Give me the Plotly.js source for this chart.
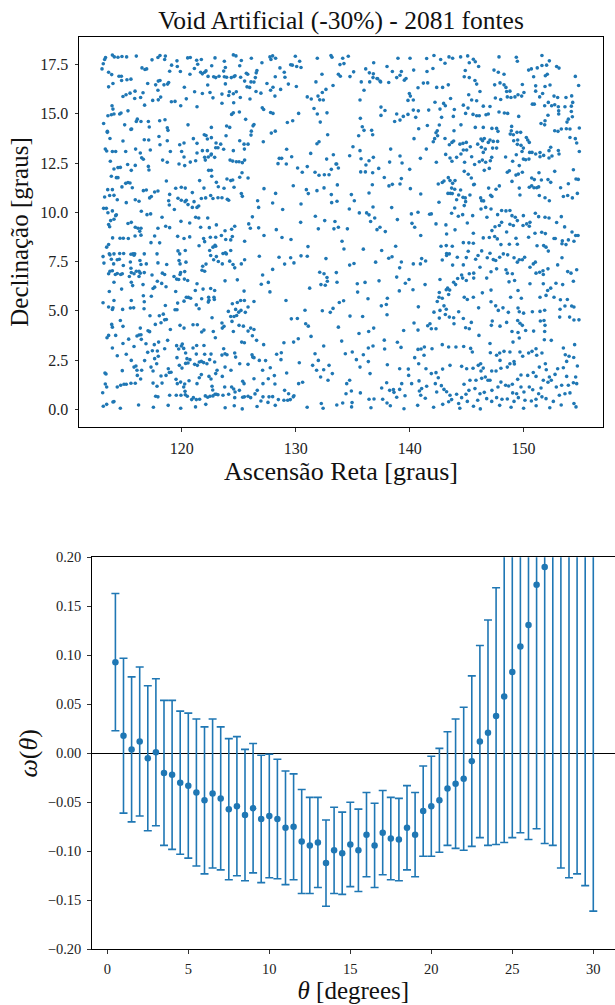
<!DOCTYPE html>
<html>
<head>
<meta charset="utf-8">
<script src="https://cdn.plot.ly/plotly-3.0.1.min.js"></script>
<style>html,body{margin:0;padding:0;background:#fff}#chart{width:615px;height:1005px}</style>
</head>
<body>
<div id="chart"></div>
<script>
// ---------- Top panel: sources (RA, Dec) ----------
const sourcesLeft = [
[113.3,17.86],[113.9,17.98],[114.07,17.89],[114.39,17.87],[114.74,17.91],[115.15,17.89],[116.0,17.93],[117.38,17.74],[117.9,17.86],[118.08,17.96],[118.55,17.93],[118.49,17.76],[119.57,17.69],[120.51,17.84],[120.74,17.86],[121.3,17.72],[121.71,17.76],[122.91,17.84],[123.73,17.67],[124.52,17.99],[124.75,17.94],[125.22,17.71],[126.1,17.82],[113.22,17.76],
[113.1,17.54],[112.99,17.28],[113.57,17.11],[113.84,16.99],[116.5,17.33],[116.76,17.25],[116.91,17.28],[119.1,17.47],[119.6,17.4],[119.87,17.15],[118.93,17.16],[121.1,17.3],[121.39,17.52],[121.65,17.11],[121.8,17.03],[122.0,17.11],[122.12,17.18],[122.62,17.44],[123.82,17.35],[123.67,17.17],[125.08,17.44],[125.66,17.06],[125.78,17.01],
[113.57,16.37],[113.95,16.54],[114.48,16.91],[114.69,16.91],[114.71,16.69],[115.18,16.73],[115.53,16.76],[117.0,16.54],[117.93,16.66],[118.08,16.69],[117.7,16.47],[118.43,16.47],[118.75,16.51],[118.84,16.59],[120.22,16.35],[120.71,17.01],[122.3,16.9],[122.27,16.46],[122.79,16.88],[122.97,16.84],[123.26,16.91],[123.73,16.88],[123.82,16.52],[123.93,16.86],[124.34,16.84],[124.58,16.89],[124.67,16.93],[125.16,16.86],[125.51,16.66],[125.72,16.37],[126.07,16.62],[125.95,16.34],
[114.83,15.88],[115.1,15.97],[115.45,16.05],[115.89,16.15],[115.86,15.78],[116.38,15.83],[116.59,16.07],[116.73,15.44],[117.44,15.68],[117.9,16.2],[117.93,15.71],[118.14,15.85],[119.08,15.61],[119.4,15.63],[119.9,15.41],[120.39,15.76],[121.12,16.12],[121.8,16.03],[122.47,16.08],[122.73,15.81],[123.52,16.0],[124.17,16.12],[124.11,15.93],[124.52,16.02],[124.78,16.12],[124.55,15.56],[125.13,15.83],[125.98,15.75],[123.52,15.54],
[113.87,15.41],[113.95,15.24],[113.51,14.9],[113.81,14.95],[114.04,14.99],[114.54,14.99],[114.66,15.04],[115.27,15.15],[116.09,14.73],[116.0,14.61],[116.41,14.61],[117.06,14.61],[117.14,14.33],[118.05,14.65],[118.52,14.7],[118.72,14.29],[118.78,14.16],[120.54,14.44],[121.33,15.36],[122.59,14.31],[123.93,14.38],[124.2,14.31],[124.37,14.97],[124.52,15.05],[125.05,15.09],[125.6,14.72],[126.1,14.12],[126.25,14.39],[113.13,14.51],[113.46,14.11],[114.98,14.44],[115.59,14.23],
[113.69,13.75],[114.83,13.62],[115.53,14.21],[116.7,13.68],[117.09,13.67],[117.99,13.85],[118.08,13.43],[118.72,13.63],[119.81,13.43],[120.19,13.52],[121.01,13.74],[121.33,13.5],[121.97,13.94],[122.12,13.9],[122.24,13.72],[122.59,13.79],[123.0,13.52],[123.17,13.28],[123.41,13.46],[123.67,13.2],[123.88,13.89],[124.52,13.13],[125.08,13.63],[125.46,13.46],[125.81,13.46],[126.07,13.92],[113.46,14.06],[113.28,13.21],[113.4,13.11],[113.9,13.09],[114.19,13.09],[115.07,13.09],[115.94,13.21],[116.35,13.01],[117.23,13.16],[118.99,13.09],[119.98,13.09],[121.33,13.01],[121.8,13.13],[122.24,13.13],[122.97,13.28],[125.49,13.21],
[113.72,12.59],[114.04,12.2],[114.39,12.27],[114.6,12.28],[115.24,12.43],[115.56,12.13],[115.91,12.38],[116.47,12.77],[116.62,12.69],[117.06,12.33],[117.11,12.15],[118.31,12.65],[118.72,12.54],[119.75,12.45],[120.25,12.37],[120.74,12.55],[121.21,12.62],[122.06,12.65],[122.32,12.81],[122.59,12.96],[122.0,12.79],[122.56,12.91],[122.88,12.79],[124.23,12.65],[124.46,12.6],[124.78,12.57],[125.02,12.57],[125.31,12.52],[125.51,12.65],[120.19,12.81],
[113.81,11.83],[114.25,11.76],[114.39,11.76],[114.74,11.29],[115.07,11.47],[115.27,11.51],[115.45,11.49],[115.65,11.25],[116.62,11.1],[116.88,11.13],[117.61,11.03],[117.9,11.08],[118.64,11.59],[118.93,10.91],[119.46,11.22],[119.95,11.27],[120.3,11.23],[120.92,11.0],[121.56,11.61],[121.94,11.23],[122.35,12.13],[122.59,12.13],[122.62,11.83],[123.03,11.52],[123.2,11.3],[123.7,11.22],[123.96,11.69],[124.29,11.61],[124.46,11.64],[124.58,11.27],[125.08,11.78],[125.28,12.01],[125.81,11.74],[113.9,11.15],[113.49,11.15],[113.22,10.78],[113.66,10.85],
[114.04,10.86],[114.33,10.64],[115.12,10.49],[115.91,10.64],[116.24,10.56],[117.17,10.73],[117.32,10.8],[118.84,10.59],[118.9,10.37],[119.34,10.14],[119.66,10.71],[119.95,10.61],[120.39,10.61],[120.28,10.54],[120.92,10.25],[121.07,10.54],[121.48,10.32],[121.71,10.7],[122.09,10.73],[122.53,10.85],[122.73,10.7],[123.17,10.74],[123.52,10.74],[123.99,10.66],[124.11,10.61],[125.22,10.95],[125.31,10.81],[113.13,10.2],[113.37,10.2],[113.51,9.98],[113.9,10.07],[114.25,9.87],[116.44,10.05],[116.94,9.88],[117.26,9.92],[120.54,10.39],[121.33,10.25],
[113.57,9.38],[113.66,9.27],[113.75,9.58],[114.04,9.65],[114.19,9.83],[115.27,9.43],[115.56,9.49],[115.91,9.24],[116.15,9.19],[116.41,9.19],[116.3,9.04],[115.89,8.8],[118.26,9.75],[118.58,9.29],[118.93,9.22],[117.9,9.19],[119.92,9.54],[120.69,9.46],[121.21,9.75],[121.48,9.71],[121.65,9.24],[122.41,9.22],[123.03,9.36],[123.79,9.06],[124.37,9.14],[124.64,9.29],[125.87,9.41],[126.19,9.77],[126.01,9.19],[122.27,9.71],
[113.92,8.7],[114.57,8.68],[114.86,8.68],[115.3,8.67],[116.41,8.84],[117.29,8.46],[117.61,8.8],[118.05,8.45],[119.63,8.78],[120.19,8.67],[120.69,8.75],[121.91,8.67],[122.0,8.51],[122.5,8.73],[122.97,8.73],[122.91,8.33],[123.47,8.82],[123.85,8.62],[124.29,8.6],[124.43,8.77],[125.51,8.53],[113.4,8.23],[113.57,8.36],[113.63,7.89],[114.04,7.89],[114.54,7.91],[114.89,7.91],[115.53,7.87],[115.71,7.89],[115.86,7.89],[116.7,7.89],[117.82,7.89],[119.66,8.04],[119.81,7.89],[120.3,8.06],[121.51,8.3],[122.44,8.06],[122.73,8.23],[122.97,8.28],[123.61,7.91],[123.82,7.94],[124.29,8.06],[123.91,7.89],
[113.08,7.75],[113.16,7.42],[113.69,7.84],[113.81,7.62],[114.01,7.38],[114.33,7.59],[114.51,7.62],[114.86,7.3],[115.48,7.48],[115.53,7.16],[115.8,7.82],[116.32,7.55],[116.41,7.35],[116.24,7.01],[116.88,7.38],[117.9,7.43],[118.67,7.35],[119.75,7.55],[119.84,7.38],[120.36,7.47],[121.83,7.26],[122.12,7.37],[122.53,7.81],[122.79,7.59],[123.03,7.75],[123.2,7.5],[123.55,7.38],[124.2,7.52],[124.49,7.35],[124.64,7.18],[125.22,7.38],[125.51,7.59],[113.69,7.01],[113.9,7.03],[113.57,6.88],[114.16,6.84],[114.33,6.89],[114.63,6.84],[114.77,6.88],[115.56,6.94],[115.8,6.88],[116.0,7.01],[116.35,6.91],[116.24,6.74],[116.7,6.94],[117.38,6.82],[117.85,6.5],[118.29,6.91],[118.49,6.84],[119.89,6.94],[120.25,6.99],[121.77,7.06],[122.0,7.01],
[114.04,6.45],[114.71,6.1],[115.39,6.74],[115.56,6.45],[115.68,6.28],[116.59,6.33],[117.47,6.13],[117.61,6.2],[118.23,6.39],[118.61,6.22],[119.31,6.74],[119.54,6.61],[119.72,6.59],[119.84,6.84],[120.22,6.61],[120.51,6.54],[121.33,6.37],[121.86,6.1],[122.53,6.13],[122.88,6.03],[123.79,6.52],[124.87,6.57],[125.46,6.0],[113.63,5.98],[116.62,5.76],[117.32,5.74],[119.46,5.98],[120.19,5.49],[120.39,5.69],[120.57,5.68],[120.77,5.64],[121.18,6.03],[122.35,5.69],[122.82,5.69],
[113.08,5.41],[113.57,5.19],[113.95,5.15],[114.04,5.52],[113.9,5.07],[114.8,5.07],[115.48,5.14],[115.77,5.15],[115.56,5.52],[116.7,5.46],[116.68,5.1],[117.2,4.75],[118.02,4.75],[118.37,4.83],[118.55,5.27],[118.64,4.56],[119.4,5.05],[119.57,5.05],[119.63,5.39],[121.27,5.3],[121.51,5.1],[121.74,5.61],[122.38,5.54],[122.85,5.57],[122.32,5.44],[124.43,5.36],[124.87,5.42],[125.16,5.52],[125.49,5.52],[124.08,4.97],[124.29,4.71],[124.58,4.71],[124.81,4.76],[124.72,5.07],[124.99,4.93],[125.19,5.02],[125.57,4.92],[125.81,5.19],
[113.84,4.31],[113.9,4.17],[113.57,3.75],[113.43,3.63],[114.19,3.75],[114.6,4.51],[114.83,4.21],[115.33,3.56],[116.06,3.72],[116.24,3.77],[116.35,4.12],[116.41,3.78],[117.03,3.99],[117.17,3.94],[117.67,4.31],[118.17,4.39],[118.49,4.54],[118.99,4.05],[119.84,4.26],[120.19,4.12],[120.98,4.29],[121.36,4.29],[121.74,3.92],[121.94,4.02],[122.65,4.65],[122.76,3.95],[122.94,3.63],[123.52,4.38],[123.7,4.21],[123.55,4.12],[124.4,4.46],[124.52,3.95],[125.02,4.26],[125.4,4.22],[126.04,4.12],[125.81,3.97],[126.19,3.73],[125.25,3.41],[125.49,3.38],
[113.9,3.11],[114.33,2.72],[114.83,3.34],[115.12,2.79],[115.8,3.19],[116.44,3.55],[116.85,3.33],[117.0,2.89],[117.41,2.97],[117.58,3.28],[117.85,2.96],[117.96,3.41],[118.49,3.07],[118.75,3.5],[119.72,3.06],[119.54,3.23],[119.95,3.21],[120.04,3.31],[120.16,3.09],[120.33,2.86],[120.98,3.11],[121.3,3.24],[121.27,2.8],[122.0,2.79],[121.94,3.24],[122.56,2.8],[123.67,3.07],[123.52,2.75],[123.79,2.82],[123.96,2.77],[124.64,2.86],[126.16,2.77],
[114.77,1.96],[115.56,2.48],[115.8,2.14],[115.97,2.2],[116.06,1.98],[116.47,1.98],[116.73,2.47],[117.29,2.14],[117.47,1.94],[117.61,2.57],[117.79,2.31],[117.93,2.69],[118.81,2.06],[118.9,1.87],[119.57,2.62],[119.78,2.23],[120.01,2.09],[120.33,2.33],[120.45,2.57],[120.54,2.35],[120.71,2.52],[121.12,2.28],[121.36,2.23],[121.53,2.4],[121.71,2.43],[121.91,2.37],[122.2,2.31],[122.44,2.52],[122.88,2.4],[123.09,1.98],[122.97,1.81],[123.55,1.67],[123.79,2.14],[124.31,1.98],[124.72,2.65],[125.08,2.31],[125.81,2.28],[126.22,2.65],[113.25,1.84],[113.34,1.79],
[114.63,1.22],[114.92,1.27],[115.12,1.27],[115.53,1.32],[115.91,1.32],[116.09,1.72],[116.38,1.54],[117.47,1.33],[117.82,1.17],[118.17,1.69],[118.26,1.33],[118.61,1.72],[119.05,1.88],[119.49,1.52],[119.6,1.3],[119.89,1.38],[120.16,1.13],[120.25,1.28],[120.28,0.91],[120.63,1.45],[121.33,1.3],[121.53,1.6],[121.71,1.76],[122.38,1.67],[122.56,1.54],[122.65,1.17],[122.71,0.98],[122.91,0.76],[123.76,1.13],[124.37,1.13],[124.55,1.03],[124.67,0.88],[125.05,0.96],[125.34,1.42],[125.46,1.3],[113.28,1.28],[113.4,1.13],[113.05,0.84],[114.04,0.39],[114.33,1.13],[118.93,0.71],[119.51,0.71],[119.92,0.71],[120.3,0.74],[120.48,0.66],[120.86,0.49],[121.01,0.59],[121.27,0.49],[121.56,0.51],[122.06,0.68],[122.27,0.61],[122.47,0.66],[122.73,0.68],[123.03,0.76],[123.17,0.74],[123.61,0.71],[124.11,0.76],[124.64,0.59],[125.34,0.61],[125.49,0.63],[125.81,0.66],[126.04,0.59],[117.7,0.66],[117.9,0.63],[113.4,0.25],[113.95,0.37]
];
const sourcesMiddle = [
[127.03,17.59],[127.73,17.89],[127.82,17.76],[127.97,17.94],[128.23,17.82],[128.61,17.33],[128.99,17.11],[129.55,17.49],[129.7,17.47],[129.96,17.92],[130.08,17.4],[130.34,17.67],[130.46,17.35],[131.89,17.82],[132.3,17.01],[133.09,17.96],[133.18,17.87],[133.88,17.5],[134.12,17.82],[134.23,17.55],[134.61,17.92],[135.08,17.13],[135.75,16.62],[136.14,17.28],[136.46,17.08],[136.81,17.03],[136.84,17.59],[137.13,16.79],[137.39,16.66],[138.01,17.4],[138.48,17.15],[138.97,17.82],[139.27,17.15],[140.03,17.82],[140.35,17.22],[141.49,17.81],[141.52,17.15],[126.59,17.2],[126.53,17.08],[126.45,16.84],
[126.33,16.61],[126.51,16.13],[126.94,16.05],[127.47,16.54],[127.79,16.2],[128.0,16.35],[128.2,16.88],[128.17,15.9],[128.67,16.24],[129.05,16.86],[129.35,16.51],[130.05,16.39],[131.01,15.86],[131.36,15.75],[131.77,16.62],[131.95,15.9],[132.1,15.71],[132.42,15.7],[132.33,16.08],[132.65,16.24],[133.27,16.44],[133.74,17.01],[133.91,16.91],[134.76,16.89],[135.99,16.2],[136.49,16.62],[136.78,16.84],[137.19,16.78],[137.45,16.62],[138.16,16.59],[138.86,16.84],[139.15,16.96],[139.53,16.71],[139.68,16.79],[139.97,16.03],[140.06,15.9],[140.32,15.7],[139.85,15.68],[140.73,16.32],[141.2,16.56],[141.58,16.57],[141.67,15.19],
[127.06,15.31],[127.18,15.22],[127.79,15.07],[128.0,15.02],[129.26,14.56],[129.73,14.65],[130.25,15.02],[131.6,15.27],[131.89,14.99],[132.15,14.58],[132.74,15.05],[135.64,15.7],[135.67,14.77],[135.84,14.34],[135.99,14.16],[136.66,14.16],[136.75,13.94],[137.48,15.34],[137.48,14.92],[137.83,15.17],[138.68,14.61],[138.86,14.99],[139.15,14.68],[139.44,14.87],[139.85,14.97],[140.32,15.19],[140.53,14.82],[140.76,15.15],[141.55,14.41],[140.79,14.24],[126.33,14.46],[127.85,14.02],[128.2,14.12],[132.8,13.94],[135.52,13.89],[140.38,13.74],
[127.15,13.58],[129.2,13.2],[129.64,12.82],[128.55,12.74],[128.76,12.74],[128.44,12.47],[129.17,12.45],[130.16,12.25],[131.01,12.32],[131.31,12.99],[131.86,13.48],[132.04,13.58],[132.71,12.7],[133.3,12.92],[133.53,12.45],[133.74,12.25],[134.73,12.87],[135.02,13.33],[135.64,13.13],[135.73,12.72],[136.16,12.4],[136.43,12.62],[136.81,12.79],[137.28,12.23],[138.33,13.21],[138.24,12.55],[139.15,12.86],[139.33,12.5],[140.0,12.18],[140.94,12.74],[141.46,13.21],
[130.57,12.03],[131.69,12.03],[132.04,11.88],[132.51,11.91],[132.92,11.91],[133.12,12.18],[133.59,12.45],[129.78,11.35],[130.93,11.15],[131.1,10.95],[131.86,11.1],[132.48,11.24],[133.12,10.9],[133.65,11.39],[133.15,10.49],[133.62,10.56],[134.88,10.9],[135.14,10.59],[135.7,12.05],[136.11,12.05],[136.72,11.4],[136.75,12.01],[137.77,11.77],[138.18,11.34],[138.48,11.42],[139.15,11.44],[139.27,11.71],[140.06,11.2],[140.97,10.93],[136.43,10.98],[127.21,11.2],[128.23,10.96],[126.65,10.59],[126.74,10.25],
[127.97,10.47],[128.85,10.14],[130.46,10.42],[131.72,9.8],[132.54,9.58],[133.44,9.53],[133.35,9.16],[133.74,9.24],[134.53,9.16],[134.7,10.17],[135.58,9.97],[136.22,9.97],[136.43,9.87],[136.57,9.53],[136.78,10.27],[136.93,9.71],[137.13,9.12],[137.39,9.24],[138.42,10.24],[138.92,9.63],[140.15,9.92],[140.73,10.0],[140.2,9.44],[140.44,9.24],[140.97,8.82],[141.75,9.9],[130.43,9.49],[128.29,9.12],[131.98,9.16],[127.21,8.82],[126.74,9.21],[129.58,8.62],[128.79,8.72],[137.86,9.02],
[134.06,8.53],[134.23,8.14],[131.07,8.26],[131.01,7.77],[130.46,7.79],[129.55,7.69],[129.84,7.43],[129.02,7.37],[128.53,7.72],[126.8,7.77],[132.65,7.65],[134.73,7.32],[135.11,7.4],[135.93,8.13],[137.54,8.06],[138.16,7.67],[138.45,7.74],[138.77,8.28],[139.12,7.18],[139.27,7.48],[140.32,7.38],[140.94,7.38],[141.05,7.65],[141.4,7.53],[137.01,7.47],[127.97,7.1],
[127.09,6.82],[126.97,6.35],[127.59,6.44],[127.73,5.96],[131.22,6.15],[132.1,6.96],[132.21,6.33],[132.48,6.88],[132.59,6.3],[132.74,6.69],[132.77,6.5],[133.56,6.94],[133.62,6.45],[135.4,6.37],[135.43,5.95],[136.08,6.44],[136.34,5.61],[137.31,6.52],[138.04,5.64],[138.86,6.71],[139.62,6.4],[139.94,6.59],[140.29,6.07],[139.09,6.01],[141.35,6.33],[126.33,5.47],[129.14,5.52],[134.2,5.51],[133.82,5.42],[133.27,5.12],[133.03,4.92],[132.33,5.0],[134.76,4.73],[135.87,4.71],[137.95,5.32],[137.51,5.25],[138.01,4.8],[140.76,5.2],
[130.81,5.03],[129.61,4.59],[130.14,4.61],[130.87,4.34],[131.1,4.22],[131.34,3.7],[133.74,4.17],[136.4,3.95],[136.84,4.12],[139.47,4.0],[140.38,4.38],[140.73,4.02],[141.58,4.24],[126.33,4.05],[126.56,3.5],[127.18,3.28],[128.96,3.38],[129.81,3.41],[130.22,3.58],[132.45,3.21],[134.03,3.46],[135.55,3.85],[136.37,3.11],[136.78,3.21],[137.77,3.51],[137.8,3.06],[138.92,3.4],[139.24,3.14],[140.73,3.04],[141.0,3.06],[141.29,3.16],
[128.32,2.79],[128.73,2.87],[126.8,2.48],[127.35,2.47],[126.33,2.62],[127.76,2.11],[128.7,2.52],[130.31,2.36],[131.69,2.82],[131.48,2.23],[131.98,2.48],[131.83,1.98],[132.18,1.64],[132.45,2.01],[132.92,2.23],[133.21,1.81],[134.35,2.82],[134.96,2.91],[135.32,2.52],[135.64,2.14],[135.93,2.77],[136.37,2.42],[136.52,1.81],[138.04,2.26],[139.12,2.06],[139.88,2.04],[140.44,2.62],[140.79,2.31],[141.26,2.74],[141.43,2.06],[127.09,1.98],[127.59,1.55],[129.2,1.84],
[128.12,1.71],[126.33,1.55],[126.62,0.96],[127.12,1.3],[128.17,1.28],[129.02,0.96],[129.37,0.79],[129.84,0.69],[130.25,1.3],[130.6,1.37],[132.83,1.47],[134.47,1.3],[134.73,1.47],[134.88,0.93],[134.41,0.79],[135.67,0.83],[136.43,0.51],[136.87,0.52],[137.54,1.08],[137.98,1.35],[138.01,0.32],[138.24,0.96],[138.57,1.0],[139.12,1.01],[139.3,1.3],[139.59,0.69],[139.91,1.72],[140.17,1.3],[140.85,0.93],[140.82,1.44],[141.05,1.05],[141.49,1.17],[126.42,0.78],[126.94,0.42],[127.12,0.63],[127.65,0.63],[127.97,0.64],[127.56,0.35],[128.47,0.49],[128.96,0.46],[129.29,0.46],[129.52,0.49],[129.78,0.63],[132.24,0.29],[134.12,0.32],[134.94,0.34],[137.63,0.51],[138.62,0.86],[138.86,0.61],[140.97,0.71],[141.37,0.56]
];
const sourcesRight = [
[142.13,17.96],[142.72,17.76],[143.1,17.57],[143.45,17.89],[143.77,17.82],[144.47,17.89],[145.09,17.94],[145.23,17.59],[145.59,17.77],[145.76,17.64],[146.05,17.4],[144.88,17.2],[144.79,16.88],[147.84,17.89],[147.4,17.22],[147.78,17.11],[148.28,17.01],[149.36,17.87],[149.45,17.67],[150.44,17.22],[150.68,17.28],[151.2,17.33],[151.61,17.45],[152.02,17.47],[151.61,17.96],[152.26,17.69],[152.9,17.4],[153.11,17.32],[150.88,16.88],[151.91,16.93],[152.08,17.01],[154.54,16.9],[142.04,17.3],[142.89,16.34],[142.37,16.34],[143.39,16.47],
[145.23,16.84],[145.73,16.69],[145.88,16.51],[146.17,16.13],[147.46,16.47],[147.93,16.57],[148.28,16.47],[148.45,16.34],[148.51,16.13],[148.8,16.15],[149.24,15.86],[149.51,15.97],[149.83,15.9],[150.03,16.08],[149.89,16.49],[151.06,16.42],[151.67,16.03],[151.88,16.39],[152.32,16.46],[152.67,15.9],[152.99,15.83],[153.72,15.83],[154.22,15.91],[154.83,16.44],[142.22,15.59],[142.98,15.53],[143.13,15.41],[143.59,15.78],[145.18,15.97],[145.44,15.7],[145.88,15.66],[146.46,15.39],[147.05,15.37],[147.52,15.8],[147.99,15.73],[148.57,15.86],[148.89,15.83],[151.06,16.15],[150.77,15.49],[151.41,15.86],[151.85,15.41],[152.17,15.58],[152.46,15.41],[152.73,15.46],[153.05,15.36],[153.08,15.15],[153.08,14.99],[153.63,15.36],[154.19,15.39],[154.31,15.58],
[142.66,15.24],[142.8,14.82],[143.92,15.22],[143.83,14.87],[144.71,15.44],[144.91,15.02],[145.12,15.29],[145.56,14.97],[145.88,14.9],[146.11,14.9],[146.7,14.95],[146.9,14.99],[147.84,15.09],[148.31,15.04],[148.6,15.02],[149.57,14.87],[150.94,15.49],[151.53,14.51],[151.85,14.44],[152.14,14.93],[151.88,14.65],[153.81,14.58],[153.93,14.73],[154.19,15.12],[154.28,14.85],[142.6,14.43],[142.42,14.14],[142.31,14.04],[142.45,13.89],[143.1,13.75],[142.19,13.74],[143.89,14.14],[144.5,14.44],[145.76,14.31],[146.46,14.31],[147.22,14.26],[147.63,14.26],[147.75,14.11],[148.95,14.36],[148.92,14.14],[148.83,13.97],[149.1,13.94],[149.42,14.06],[149.74,14.06],[152.73,14.14],[153.02,14.11],[153.31,14.23],[153.75,14.24],[154.07,14.23],[154.89,14.28],
[142.07,13.58],[143.48,13.43],[143.71,13.55],[143.86,13.62],[144.41,13.46],[144.68,13.5],[144.97,13.55],[144.5,12.96],[144.71,13.16],[145.0,13.16],[145.32,13.33],[145.97,13.46],[146.26,13.72],[146.4,13.63],[146.55,13.75],[146.9,13.55],[147.05,13.67],[147.34,13.6],[147.72,13.6],[146.29,13.3],[146.46,13.04],[146.64,13.21],[147.28,13.26],[147.63,13.26],[149.13,13.63],[149.48,13.67],[149.45,13.45],[149.77,13.4],[150.24,13.8],[150.36,13.67],[150.5,13.55],[149.98,13.26],[149.36,12.92],[149.86,13.09],[150.53,13.04],[150.74,13.04],[151.44,13.03],[151.76,12.89],[152.23,13.13],[152.38,13.3],[153.05,13.14],[153.11,12.96],[154.07,13.8],[154.54,13.74],[154.66,13.52],[154.89,13.09],[143.16,12.94],[143.54,12.76],[143.71,12.59],[144.12,12.79],[144.82,12.54],[145.44,12.82],[145.7,12.43],[146.11,12.57],[146.38,12.65],[146.67,12.54],[147.08,12.62],[147.2,12.79],[148.42,12.81],[148.75,12.11],[149.04,12.59],[149.62,12.37],[149.98,12.7],[150.18,12.67],[150.47,12.7],[151.06,12.96],[151.44,12.82],[152.23,12.76],[152.49,12.86],[142.34,12.54],
[144.79,12.08],[145.14,11.93],[145.41,11.74],[145.67,11.42],[146.55,12.13],[146.99,12.23],[148.57,12.03],[148.98,11.57],[149.33,11.89],[149.54,11.94],[149.89,12.03],[149.62,11.23],[150.5,11.27],[150.71,11.35],[150.91,11.25],[151.15,11.25],[151.32,11.29],[150.71,11.74],[150.94,11.66],[151.35,12.01],[151.56,11.64],[152.14,11.66],[152.38,11.52],[152.73,12.08],[153.25,11.25],[153.93,11.45],[154.37,12.16],[154.6,11.69],[154.8,11.67],[142.51,11.44],[142.86,11.51],[143.01,11.59],[143.39,11.76],[143.54,11.61],[143.77,11.47],[143.98,11.61],[143.68,11.23],[143.36,10.96],[143.57,10.96],[143.74,10.95],[143.95,11.17],[144.47,11.13],[144.12,10.64],[144.3,10.88],[144.68,10.76],[144.88,10.73],[144.91,10.54],[145.29,10.88],[145.61,11.4],[146.23,10.73],[146.32,10.59],[146.49,10.58],[146.93,11.23],[147.11,10.86],[147.22,10.8],[147.58,11.17],[147.87,11.34],[149.68,10.88],[151.38,10.85],[151.88,10.74],[152.26,10.59],[153.49,10.8],[153.87,10.85],[154.28,10.73],[154.72,10.96],[141.9,9.92],[142.57,10.51],[143.68,9.95],[143.95,10.22],[144.79,10.34],
[142.31,9.41],[143.18,9.36],[143.24,8.9],[143.98,9.11],[144.27,9.8],[144.65,9.88],[145.06,9.46],[145.53,9.83],[145.59,8.94],[146.26,10.17],[146.67,10.25],[147.14,10.17],[147.72,9.88],[148.07,10.09],[148.45,10.07],[148.8,10.09],[148.98,9.83],[149.27,9.75],[149.45,9.58],[149.98,9.83],[150.27,9.41],[150.56,9.49],[151.03,9.95],[151.32,9.78],[151.88,9.75],[152.23,9.71],[152.9,9.48],[153.31,9.78],[153.6,9.26],[146.78,9.75],[147.49,9.27],[147.22,9.07],[147.87,9.33],[148.07,9.49],[148.51,9.0],[148.8,9.39],[149.1,9.33],[149.95,9.33],[150.5,9.29],[151.0,8.94],[151.59,8.99],[151.91,8.92],[152.67,8.67],[153.4,8.55],[154.25,9.0],[154.57,8.82],[142.75,8.28],[143.21,8.31],[143.24,7.91],[143.48,7.89],[143.74,8.28],[144.71,8.46],[145.2,8.45],[145.59,8.43],[146.46,8.7],[146.99,8.72],[147.46,8.77],[147.69,8.65],[148.01,8.36],[148.75,8.38],[149.33,8.68],[149.45,8.38],[150.44,8.73],[151.18,8.3],[151.76,8.31],[151.97,8.23],[152.17,8.03],[152.78,8.67],[153.37,8.4],[153.72,8.36],[153.93,8.6],[154.42,8.53],[154.78,8.82],
[142.86,7.58],[143.24,7.81],[143.77,7.32],[144.18,7.72],[144.71,7.33],[144.97,7.7],[145.14,8.02],[145.79,7.62],[146.0,7.81],[146.32,8.04],[146.81,7.69],[147.05,7.92],[147.34,7.6],[147.55,7.55],[147.63,7.13],[147.9,7.72],[148.22,7.89],[148.6,7.84],[149.16,7.69],[149.45,7.47],[149.62,7.59],[149.89,7.59],[150.09,7.72],[150.56,7.21],[150.85,7.38],[151.03,7.47],[151.09,6.91],[151.41,6.96],[151.7,7.03],[151.73,6.84],[152.14,7.13],[152.99,7.33],[153.37,7.69],[153.87,6.99],[154.16,6.91],[154.66,7.08],[142.66,6.59],[143.21,6.07],[143.33,6.15],[143.51,6.05],[143.86,6.45],[144.03,6.33],[144.21,6.64],[144.56,6.82],[144.65,6.66],[144.97,6.54],[145.23,6.88],[145.62,6.91],[145.62,6.66],[146.17,7.21],[146.76,6.66],[147.14,6.98],[148.45,7.08],[148.57,6.91],[149.01,6.88],[148.72,6.47],[149.21,6.54],[149.51,6.03],[147.14,6.05],[146.38,5.91],[150.56,6.37],[151.73,6.37],[152.11,6.03],[152.38,6.15],[152.84,6.4],[153.43,6.33],[154.37,6.5],
[142.6,5.93],[142.57,5.69],[142.42,5.47],[142.86,5.64],[143.42,5.83],[143.01,5.25],[143.21,5.08],[142.66,5.02],[143.13,4.81],[143.48,4.68],[143.86,4.65],[144.3,4.95],[144.79,5.69],[145.06,5.57],[145.59,5.69],[146.05,5.15],[147.14,5.46],[147.55,5.25],[148.19,5.15],[147.78,5.02],[148.66,4.92],[149.51,5.14],[149.62,4.95],[150.0,4.88],[148.86,5.69],[149.8,5.64],[150.77,4.95],[151.44,4.97],[151.85,5.03],[151.44,5.69],[151.97,5.78],[152.67,5.69],[153.23,5.56],[153.84,5.57],[153.63,5.24],[154.22,5.24],[154.42,5.19],[153.2,5.08],[151.79,4.51],[153.17,4.68],[154.04,4.68],[154.42,4.53],[154.86,4.54],[142.13,4.93],[142.6,4.63],[141.78,4.34],[141.9,4.09],[142.31,4.09],[143.89,4.34],[144.71,4.61],[144.91,4.14],[145.23,4.09],[145.41,4.41],[146.08,3.75],[147.25,4.48],[147.17,4.26],[147.93,4.22],[148.51,4.41],[149.48,4.51],[149.68,4.37],[149.89,4.26],[148.98,3.95],[149.51,3.9],[149.62,3.62],[150.18,4.0],[150.88,3.97],[151.47,4.48],[151.88,4.26],[151.85,3.95],[141.96,3.07],
[142.86,3.28],[143.42,3.16],[144.06,3.16],[144.74,3.19],[145.35,3.09],[145.5,2.91],[147.05,3.34],[147.08,2.87],[147.63,2.74],[147.9,2.86],[147.93,2.48],[148.28,2.94],[148.8,2.91],[149.07,3.41],[149.16,2.42],[149.68,2.91],[149.92,2.69],[150.44,2.86],[150.74,2.94],[151.09,3.07],[151.15,2.74],[151.61,2.86],[151.82,3.53],[152.43,3.5],[151.91,2.31],[153.49,3.11],[153.66,2.77],[153.99,2.69],[154.48,3.28],[154.4,2.63],[154.72,2.2],[153.78,2.43],[141.9,1.81],[142.31,1.86],[142.51,1.6],[142.89,2.04],[143.54,2.23],[144.56,2.18],[145.0,2.06],[145.56,2.08],[146.02,2.23],[146.23,2.31],[146.26,1.94],[146.46,2.09],[146.87,1.47],[147.2,1.94],[147.58,1.94],[148.01,2.08],[148.57,2.14],[148.8,2.31],[149.19,2.3],[149.77,1.74],[150.36,1.72],[150.85,1.87],[151.38,2.14],[151.73,1.47],[151.99,2.01],[152.26,1.64],[152.76,1.77],[152.99,2.06],[153.49,2.11],[153.78,1.67],[154.57,1.64],
[142.25,1.3],[142.78,1.2],[143.01,1.01],[142.37,0.88],[143.24,0.89],[143.54,0.71],[143.68,0.49],[144.12,0.76],[144.56,0.59],[144.94,0.76],[145.2,0.96],[144.77,1.27],[145.29,1.47],[145.82,1.47],[146.32,1.57],[146.64,1.64],[145.73,1.05],[146.17,0.79],[146.55,0.86],[147.05,1.47],[147.22,0.96],[147.75,1.13],[148.01,1.38],[148.42,1.22],[148.69,1.18],[149.01,1.27],[149.48,1.52],[149.77,1.13],[150.03,0.88],[149.39,0.79],[150.5,1.13],[150.8,0.99],[151.09,1.67],[151.32,0.79],[151.53,1.08],[152.14,1.37],[152.43,1.47],[152.87,1.13],[153.34,1.22],[153.93,1.22],[154.37,1.35],[154.66,1.3],[154.07,0.83],[145.97,0.46],[146.76,0.54],[147.2,0.4],[147.63,0.59],[148.1,0.51],[148.57,0.52],[149.04,0.83],[149.16,0.4],[149.54,0.59],[150.12,0.46],[150.68,0.42],[151.09,0.51],[151.61,0.63],[151.97,0.54],[152.61,0.4],[153.14,0.71],[153.63,0.79],[154.42,0.29],[143.42,0.38],[144.3,0.29],[145.06,0.4]
];
const sourcesBottomEdge = [
[113.1,0.15],[114.6,0.05],[116.2,0.22],[117.5,0.1],[118.8,0.2],[119.9,0.05],[121.2,0.12],[122.1,0.25],[123.8,0.08],[124.6,0.18],[125.3,0.02],[126.6,0.14],[128.2,0.2],[131.0,0.1],[132.4,0.05],[133.6,0.22],[134.9,0.12],[136.6,0.08],[138.3,0.18],[139.5,0.03],[140.7,0.2],[142.1,0.1],[142.9,0.25],[144.4,0.05],[145.6,0.15],[146.2,0.02],[147.9,0.2],[148.9,0.1],[150.0,0.05],[151.1,0.18],[152.3,0.08],[153.3,0.22],[154.6,0.12]
];
const raTicks = [120, 130, 140, 150];
const decTicks = [0.0, 2.5, 5.0, 7.5, 10.0, 12.5, 15.0, 17.5];

// ---------- Bottom panel: angular correlation ----------
const theta = [0.5,1.0,1.5,2.0,2.5,3.0,3.5,4.0,4.5,5.0,5.5,6.0,6.5,7.0,7.5,8.0,8.5,9.0,9.5,10.0,10.5,11.0,11.5,12.0,12.5,13.0,13.5,14.0,14.5,15.0,15.5,16.0,16.5,17.0,17.5,18.0,18.5,19.0,19.5,20.0,20.5,21.0,21.5,22.0,22.5,23.0,23.5,24.0,24.5,25.0,25.5,26.0,26.5,27.0,27.5,28.0,28.5,29.0,29.5,30.0];
const omega = [0.093,0.018,0.004,0.012,-0.005,0.001,-0.020,-0.022,-0.030,-0.033,-0.040,-0.048,-0.041,-0.046,-0.057,-0.054,-0.063,-0.056,-0.067,-0.064,-0.067,-0.076,-0.075,-0.090,-0.094,-0.091,-0.112,-0.099,-0.102,-0.093,-0.099,-0.083,-0.094,-0.081,-0.087,-0.088,-0.076,-0.083,-0.059,-0.054,-0.048,-0.036,-0.031,-0.026,-0.008,0.012,0.021,0.038,0.058,0.083,0.109,0.131,0.172,0.190,0.215,0.240,0.270,0.300,0.340,0.380];
const omegaErr = [0.070,0.079,0.074,0.076,0.074,0.075,0.074,0.076,0.073,0.074,0.075,0.075,0.076,0.073,0.072,0.071,0.067,0.066,0.065,0.063,0.061,0.058,0.054,0.053,0.049,0.046,0.044,0.044,0.042,0.043,0.042,0.043,0.043,0.043,0.042,0.042,0.043,0.043,0.046,0.051,0.053,0.058,0.066,0.073,0.087,0.098,0.115,0.131,0.149,0.169,0.190,0.219,0.249,0.282,0.309,0.357,0.397,0.423,0.475,0.541];
const omegaTicks = [-0.20,-0.15,-0.10,-0.05,0.00,0.05,0.10,0.15,0.20];
const thetaTicks = [0,5,10,15,20,25,30];

const allSources = sourcesLeft.concat(sourcesMiddle, sourcesRight, sourcesBottomEdge);
const ra = allSources.map(p => p[0]);
const dec = allSources.map(p => p[1]);

const BLUE = '#1f77b4';
const FONT = '"Liberation Serif", "DejaVu Serif", serif';
const W = 615, H = 1005;

const traces = [
  {type:'scatter', mode:'markers', x: ra, y: dec, xaxis:'x', yaxis:'y',
   marker:{size:3.6, color:BLUE, line:{width:0}}, hoverinfo:'skip'},
  {type:'scatter', mode:'markers', x: theta, y: omega, xaxis:'x2', yaxis:'y2',
   marker:{size:6.5, color:BLUE},
   error_y:{type:'data', array: omegaErr, visible:true, color:BLUE, thickness:1.6, width:4},
   hoverinfo:'skip'}
];

const axCommon = {showgrid:false, zeroline:false, showline:true, linecolor:'#000', linewidth:1,
  ticks:'outside', ticklen:3.5, tickwidth:0.8, tickcolor:'#000', ticklabelstandoff:3,
  tickfont:{family:FONT, size:16, color:'#222'}};

const layout = {
  width: W, height: H,
  margin:{l:0, r:0, t:0, b:0},
  paper_bgcolor:'#fff', plot_bgcolor:'#fff',
  showlegend:false,
  font:{family:FONT, color:'#000'},
  title:{text:'Void Artificial (-30%) - 2081 fontes', font:{family:FONT, size:25.5, color:'#111'},
         x:341/W, xanchor:'center', y:1-20/H, yanchor:'middle', xref:'paper', yref:'container'},
  xaxis: Object.assign({}, axCommon, {
    domain:[79/W, 603/W], anchor:'y', range:[110.97, 156.97], mirror:true,
    tickmode:'array', tickvals: raTicks, ticktext: raTicks.map(String),
    title:{text:'Ascensão Reta [graus]', font:{family:FONT, size:26, color:'#111'}, standoff:4}
  }),
  yaxis: Object.assign({}, axCommon, {
    domain:[1-427/H, 1-37/H], anchor:'x', range:[-0.9, 18.9], mirror:true,
    tickmode:'array', tickvals: decTicks, ticktext: decTicks.map(v => v.toFixed(1)),
    title:{text:'Declinação [graus]', font:{family:FONT, size:25, color:'#111'}, standoff:4}
  }),
  xaxis2: Object.assign({}, axCommon, {
    domain:[91.7/W, 1], anchor:'y2', range:[-0.963, 31.34], mirror:true,
    tickmode:'array', tickvals: thetaTicks, ticktext: thetaTicks.map(String),
    tickfont:{family:FONT, size:14.5, color:'#222'},
    title:{text:'<i>θ</i> [degrees]', font:{family:FONT, size:25, color:'#111'}, standoff:4}
  }),
  yaxis2: Object.assign({}, axCommon, {
    domain:[1-949.3/H, 1-557.3/H], anchor:'x2', range:[-0.2, 0.2], mirror:false,
    zeroline:true, zerolinecolor:'#000', zerolinewidth:1.2,
    tickmode:'array', tickvals: omegaTicks, ticktext: omegaTicks.map(v => (v<0?'\u2212':'') + Math.abs(v).toFixed(2)),
    tickfont:{family:FONT, size:14.5, color:'#222'},
    title:{text:'<i>ω</i>(<i>θ</i>)', font:{family:FONT, size:26, color:'#111'}, standoff:2}
  })
};

Plotly.newPlot('chart', traces, layout, {staticPlot:true, displayModeBar:false});
</script>
</body>
</html>
